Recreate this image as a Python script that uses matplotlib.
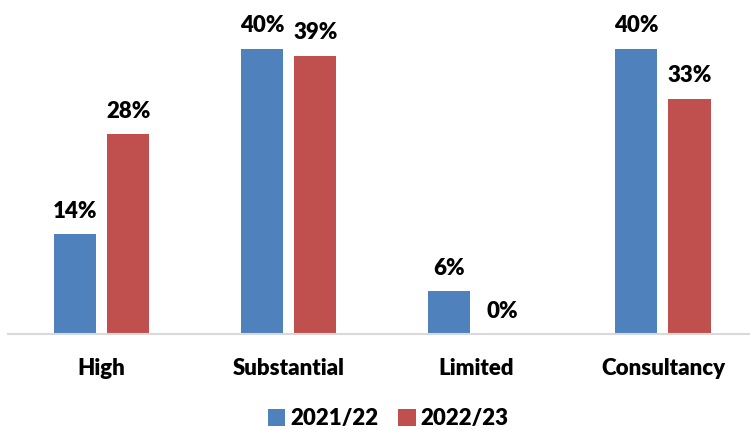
import matplotlib.pyplot as plt
import numpy as np

categories = ['High', 'Substantial', 'Limited', 'Consultancy']
series_names = ['2021/22', '2022/23']
v2122 = [14, 40, 6, 40]
v2223 = [28, 39, 0, 33]
colors = ['#4F81BD', '#C0504D']

plt.rcParams['font.family'] = ['Lato', 'DejaVu Sans']

fig = plt.figure(figsize=(7.5, 4.29), dpi=100)
# plot area: x 8..750 px, y 13..334 px
ax = fig.add_axes([8 / 750, 1 - 334 / 429, 742 / 750, 321 / 429])

x = np.arange(len(categories))
w = 0.225
off = 0.142
for vals, name, c, d in [(v2122, series_names[0], colors[0], -off),
                         (v2223, series_names[1], colors[1], off)]:
    bars = ax.bar(x + d, vals, width=w, color=c, label=name, zorder=2)
    for b, v in zip(bars, vals):
        ax.text(b.get_x() + b.get_width() / 2, v + 3.2, f'{v}%',
                ha='center', va='center', fontsize=16, fontweight='heavy',
                color='black')

ax.set_xlim(-0.5, 3.5 - 6.5 / 187)
ax.set_ylim(0, 45)
ax.set_yticks([])
ax.set_xticks(x)
ax.set_xticklabels(categories, fontsize=16, fontweight='heavy')
ax.tick_params(axis='x', length=0, pad=17.5)
for s in ['top', 'right', 'left']:
    ax.spines[s].set_visible(False)
ax.spines['bottom'].set_color('#D9D9D9')
ax.spines['bottom'].set_linewidth(1.5)

leg = fig.legend(loc='center', bbox_to_anchor=(388 / 750, 1 - 419 / 429),
                 ncol=2, frameon=False, handlelength=0.8, handleheight=0.8,
                 handletextpad=0.2, columnspacing=0.9,
                 prop={'size': 16, 'weight': 'heavy'})

fig.savefig('out.png', dpi=100)
